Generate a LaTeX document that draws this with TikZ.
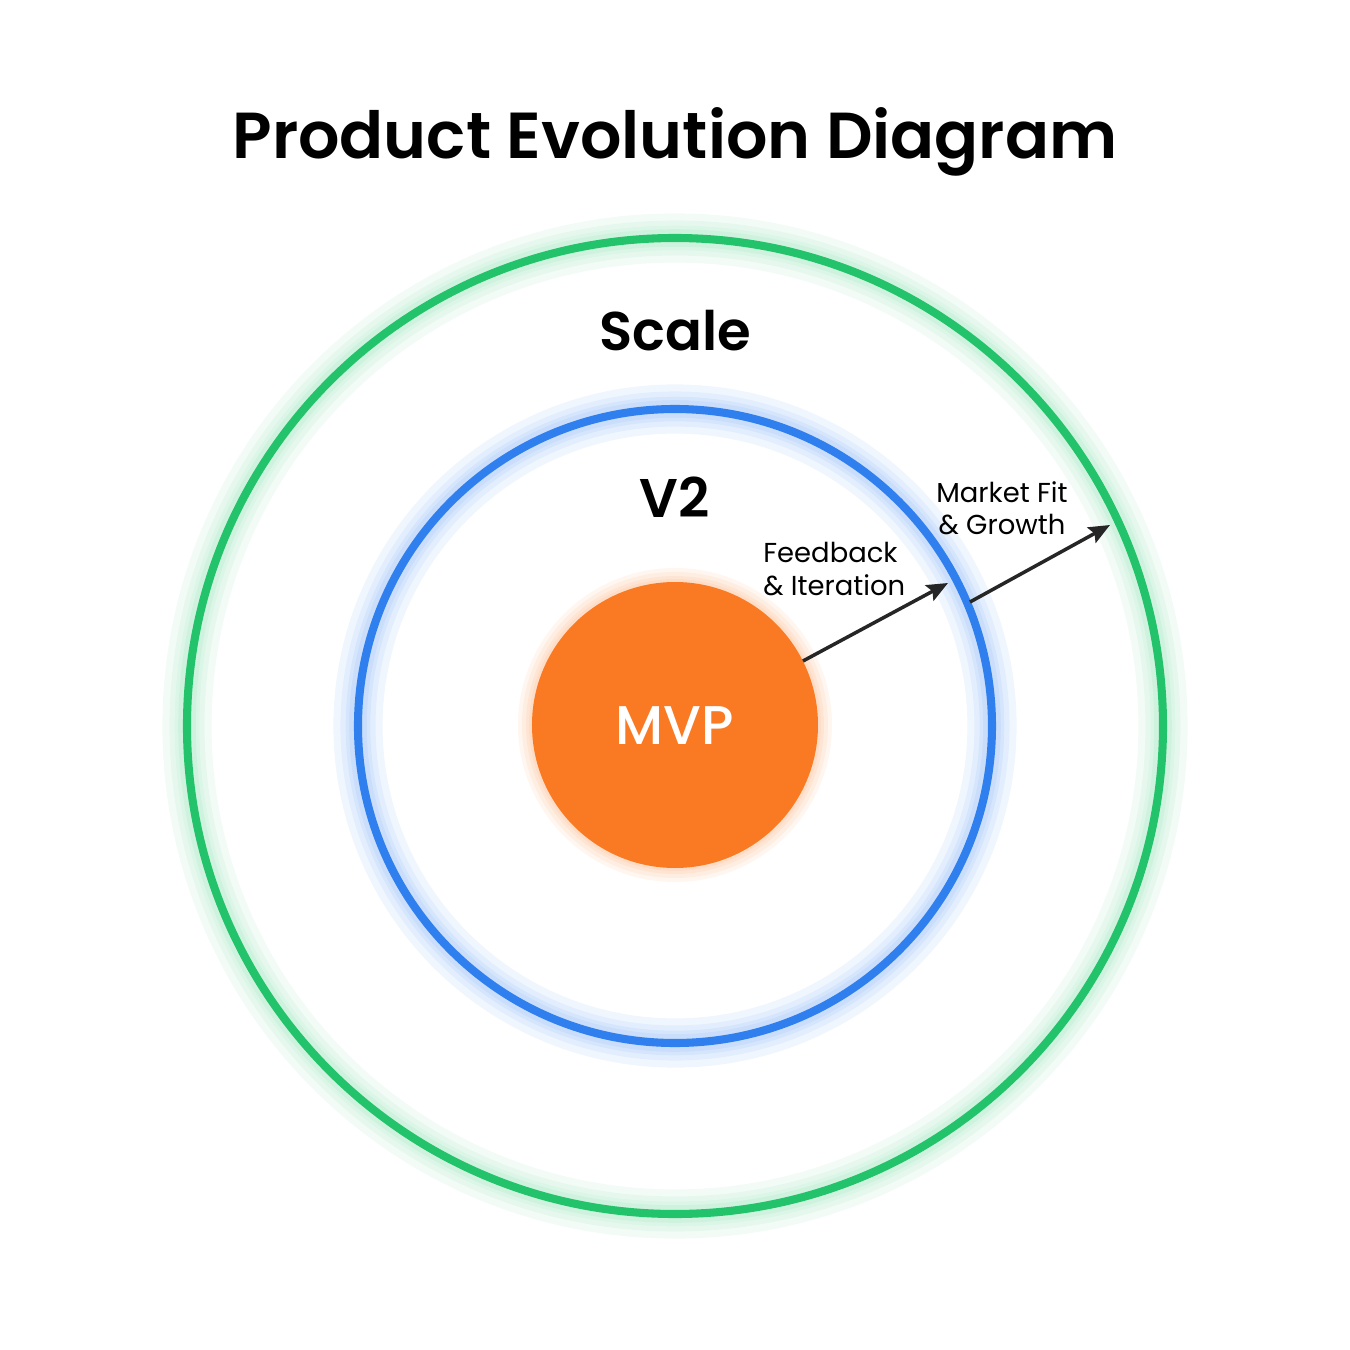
\documentclass[tikz,border=0pt]{standalone}
\usepackage{fontspec}
\setmainfont{Poppins}[BoldFont=Poppins SemiBold]
\newfontfamily\mediumfont{Poppins Medium}
\usetikzlibrary{arrows.meta,positioning}
\definecolor{ringgreen}{HTML}{22C36A}
\definecolor{ringblue}{HTML}{2F7FEF}
\definecolor{mvporange}{HTML}{F97A22}
\begin{document}
\begin{tikzpicture}[
    ring/.style={circle, draw=#1, line width=2.3pt, minimum size=2*\ringr},
    stagelabel/.style={font=\fontsize{15.5}{18}\selectfont\bfseries},
    steplabel/.style={font=\fontsize{7.8}{9.2}\selectfont, align=#1},
    stagearrow/.style={-{Stealth[length=6pt,width=5pt,inset=1pt]}, line width=1pt, black!85},
]
\useasboundingbox (-6.75,-6.22) rectangle (6.75,7.28);
% soft halos behind the rings
\foreach \glowlw in {14pt,10pt,7pt,5pt} {
  \draw[ringgreen, opacity=0.06, line width=\glowlw] (0,0.02) circle (4.88);
  \draw[ringblue, opacity=0.07, line width=\glowlw] (0,0.02) circle (3.17);
}
\foreach \halo in {0.03,0.06,0.1,0.14} {
  \fill[mvporange, opacity=0.07] (0,0.03) circle (1.43+\halo);
}
\def\ringr{4.88cm}
\node[ring=ringgreen] (scale) at (0,0.02) {};
\def\ringr{3.17cm}
\node[ring=ringblue] (v2ring) at (0,0.02) {};
\node[circle, fill=mvporange, minimum size=2.86cm] (mvp) at (0,0.03) {};

\node[font=\fontsize{18.5}{22}\selectfont\bfseries] (title) at (0,5.86) {Product Evolution Diagram};
\node[stagelabel] (scalelbl) at (0,3.97) {Scale};
\node[stagelabel] (v2lbl) at (0,2.31) {V2};
\node[font=\fontsize{15.5}{18}\selectfont\mediumfont, white] (mvplbl) at (0,0.02) {MVP};

\coordinate (fbstart) at (1.28,0.67);
\coordinate (fbend) at (2.73,1.45);
\coordinate (mfstart) at (2.95,1.26);
\coordinate (mfend) at (4.35,2.03);
\draw[stagearrow] (fbstart) -- (fbend);
\draw[stagearrow] (mfstart) -- (mfend);
\node[steplabel=left, anchor=west] (fblbl) at (0.76,1.59) {Feedback\\\& Iteration};
\node[steplabel=center] (mflbl) at (3.27,2.20) {Market Fit\\\& Growth};
\end{tikzpicture}
\end{document}
